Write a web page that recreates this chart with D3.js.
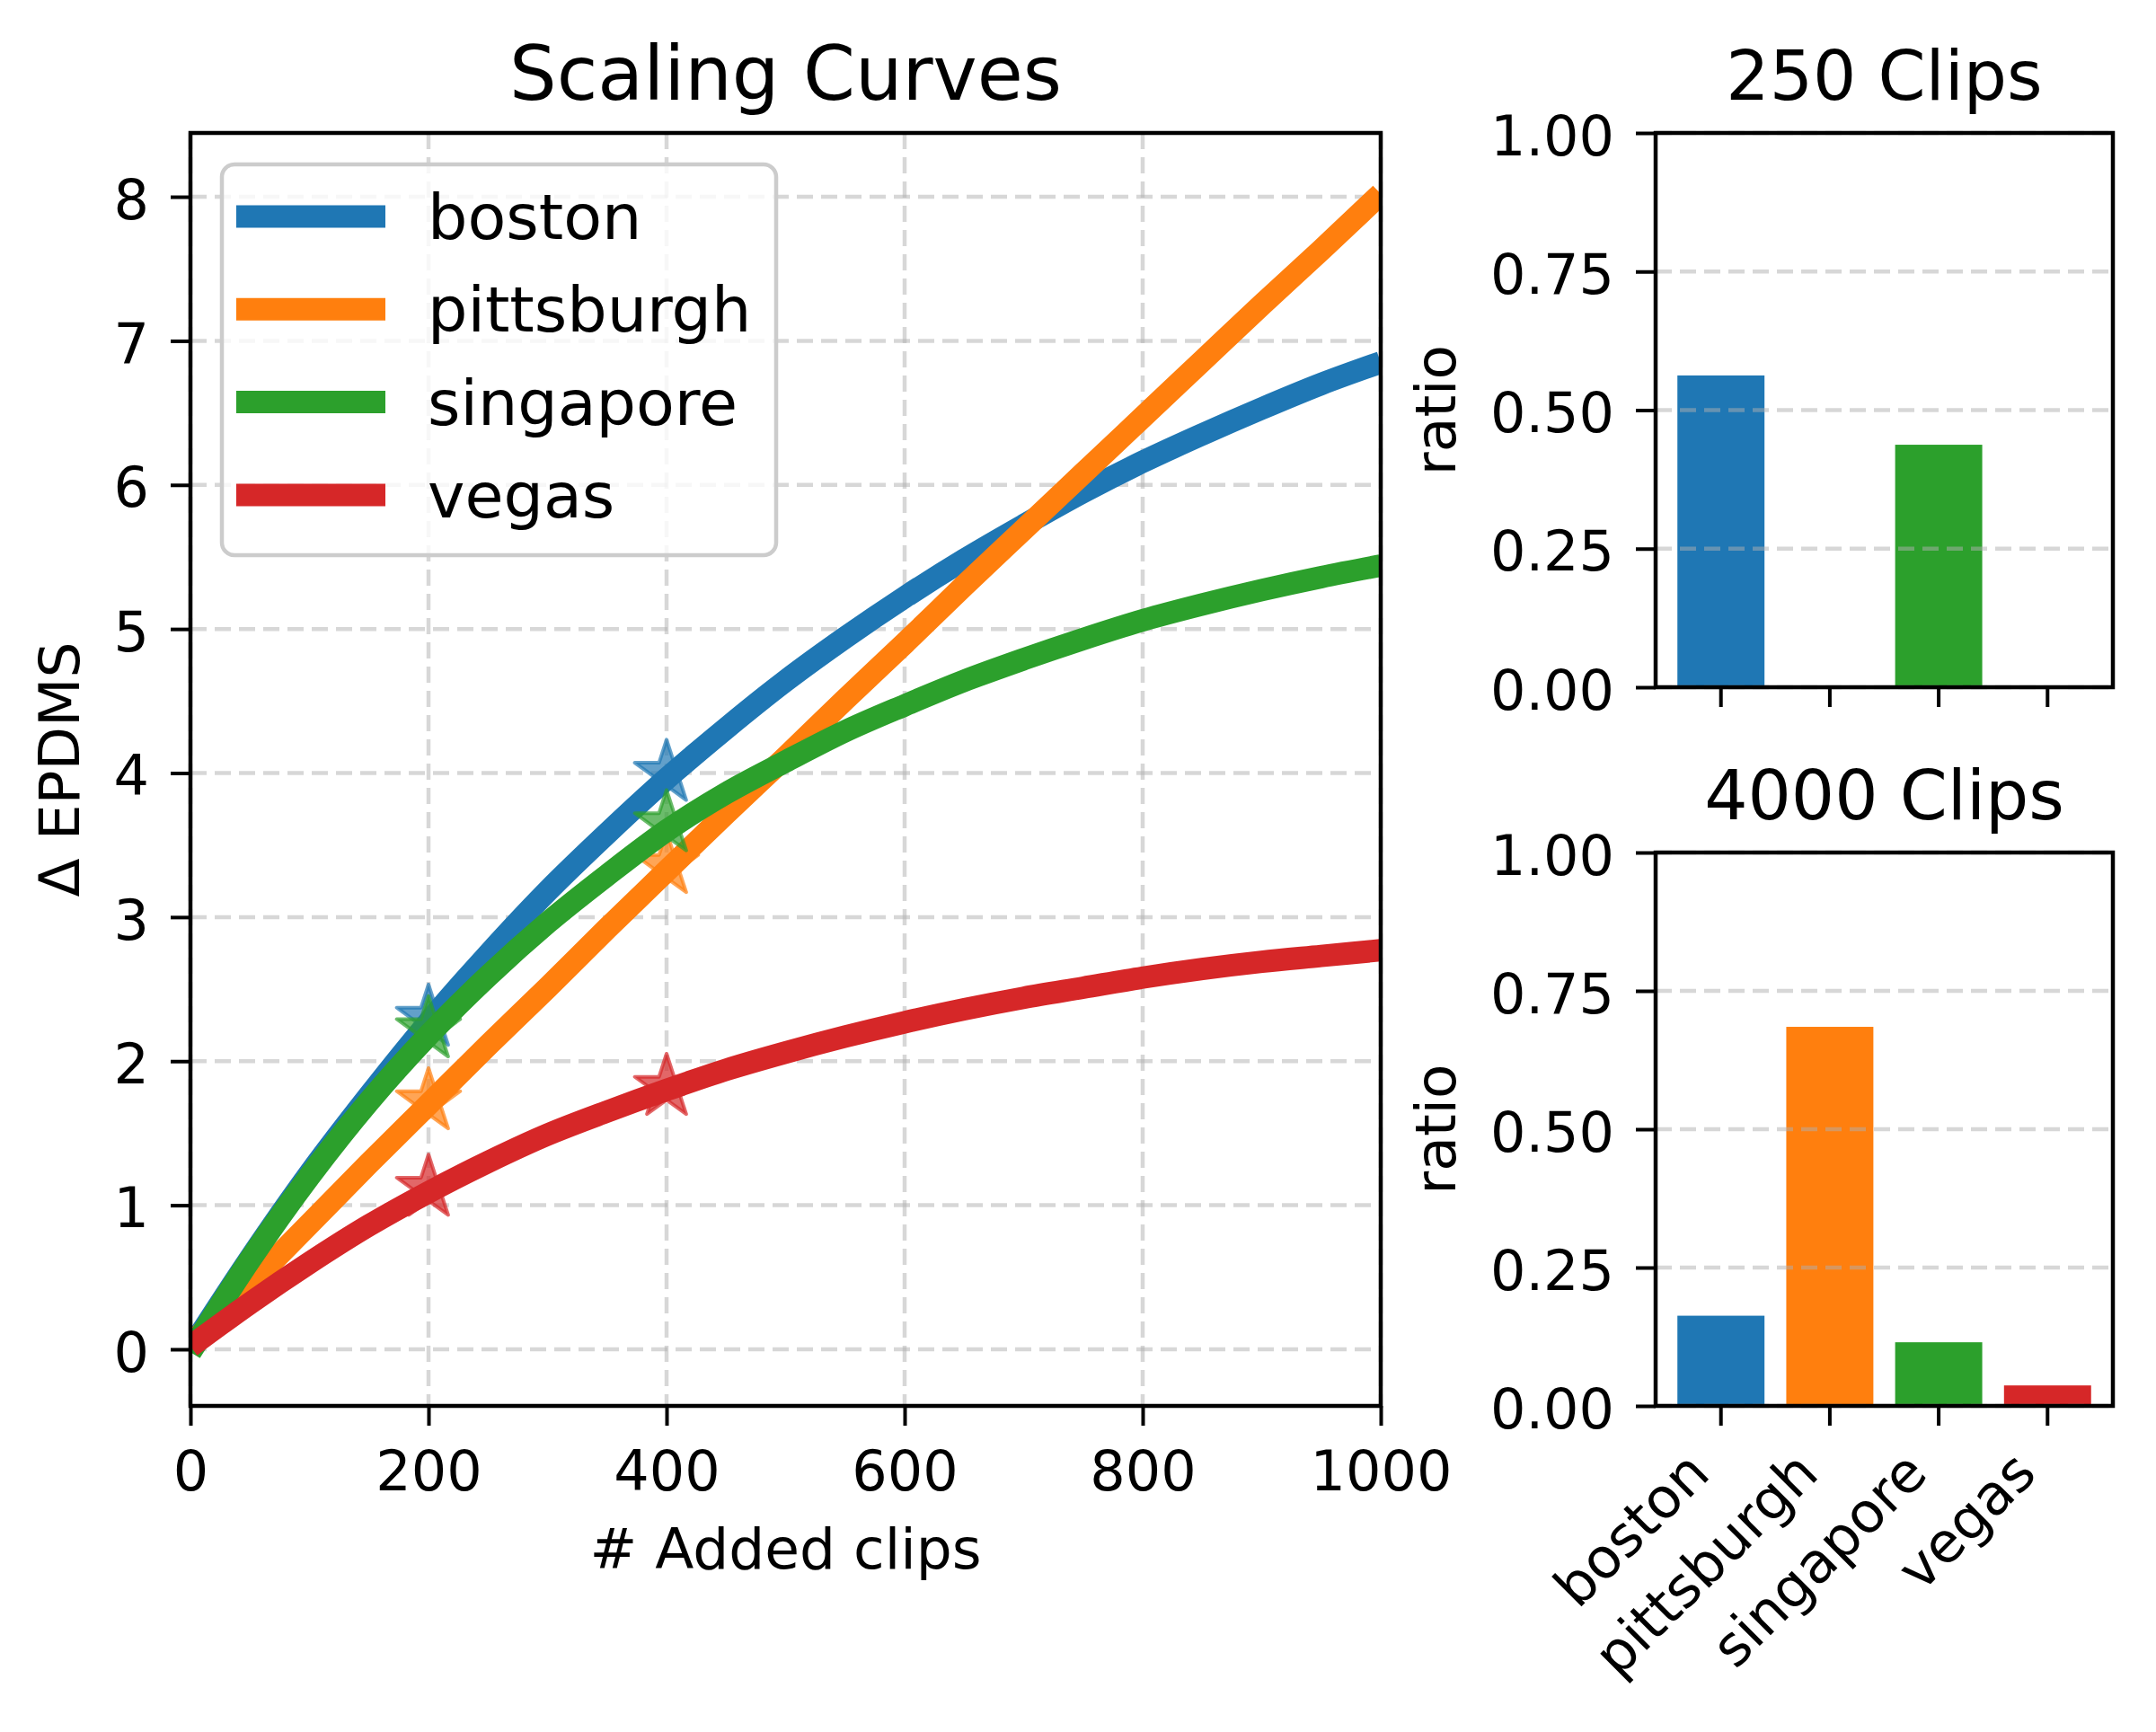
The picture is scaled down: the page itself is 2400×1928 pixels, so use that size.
<!DOCTYPE html>
<html>
<head>
<meta charset="utf-8">
<script src="https://cdn.jsdelivr.net/npm/d3@7"></script>
<style>
  html, body { margin: 0; padding: 0; background: #fff; }
  text { font-family: "DejaVu Sans", sans-serif; fill: #000; }
</style>
</head>
<body>
<div id="chart"></div>
<script>
// ---- data ----
const cities = ['boston', 'pittsburgh', 'singapore', 'vegas'];
const cityColors = ['#1f77b4', '#ff7f0e', '#2ca02c', '#d62728'];

const clipSteps = [0, 50, 100, 150, 200, 250, 300, 350, 400, 450, 500,
                   550, 600, 650, 700, 750, 800, 850, 900, 950, 1000];
const bostonCurve     = [0.00, 0.63, 1.22, 1.76, 2.27, 2.74, 3.18, 3.58, 3.96, 4.31, 4.64,
                         4.94, 5.22, 5.48, 5.72, 5.95, 6.16, 6.35, 6.53, 6.70, 6.85];
const pittsburghCurve = [0.03, 0.45, 0.87, 1.29, 1.70, 2.11, 2.51, 2.92, 3.32, 3.72, 4.11,
                         4.51, 4.90, 5.30, 5.69, 6.08, 6.47, 6.86, 7.25, 7.63, 8.02];
const singaporeCurve  = [-0.02, 0.62, 1.20, 1.72, 2.18, 2.59, 2.96, 3.29, 3.60, 3.86, 4.08,
                         4.29, 4.47, 4.64, 4.79, 4.93, 5.06, 5.17, 5.27, 5.36, 5.44];
const vegasCurve      = [0.02, 0.32, 0.60, 0.86, 1.09, 1.30, 1.49, 1.65, 1.80, 1.94, 2.06,
                         2.17, 2.27, 2.36, 2.44, 2.51, 2.58, 2.64, 2.69, 2.73, 2.77];

const starClips = [200, 400];
const bostonStars     = [2.30, 4.00];
const pittsburghStars = [1.72, 3.36];
const singaporeStars  = [2.22, 3.65];
const vegasStars      = [1.12, 1.82];

const ratio250  = [0.5625, 0, 0.4375, 0];
const ratio4000 = [0.163, 0.685, 0.115, 0.037];

const xTicksMain = [0, 200, 400, 600, 800, 1000];
const yTicksMain = [0, 1, 2, 3, 4, 5, 6, 7, 8];
const ratioTicks = [0, 0.25, 0.5, 0.75, 1.0];

const curves = [bostonCurve, pittsburghCurve, singaporeCurve, vegasCurve];
const stars = [bostonStars, pittsburghStars, singaporeStars, vegasStars];

// ---- layout ----
const W = 2400, H = 1928;
const main = {left: 212, right: 1537, top: 148, bottom: 1565};
const barTop = {left: 1843, right: 2352, top: 148, bottom: 765};
const barBot = {left: 1843, right: 2352, top: 949, bottom: 1565};
const tickLen = 22, spineW = 4.5, lineW = 25;
const tickFont = 62, labelFont = 63;

const svg = d3.select('#chart').append('svg')
    .attr('width', W).attr('height', H)
    .attr('viewBox', `0 0 ${W} ${H}`);
svg.append('rect').attr('width', W).attr('height', H).attr('fill', '#fff');

function gridStyle(sel) {
  sel.attr('stroke', '#b0b0b0').attr('stroke-opacity', 0.5)
     .attr('stroke-width', 4.5).attr('stroke-dasharray', '18,9');
}

function styleAxis(g) {
  g.select('.domain').remove();
  g.selectAll('.tick line').attr('stroke', '#000').attr('stroke-width', 4);
  g.selectAll('.tick text').attr('font-size', tickFont).attr('fill', '#000')
    .attr('font-family', '"DejaVu Sans", sans-serif');
}

// ================= Scaling curves =================
const x = d3.scaleLinear().domain([0, 1000]).range([main.left, main.right]);
const y = d3.scaleLinear().domain([-0.393, 8.443]).range([main.bottom, main.top]);

svg.append('defs').append('clipPath').attr('id', 'mainClip')
  .append('rect')
    .attr('x', main.left).attr('y', main.top)
    .attr('width', main.right - main.left).attr('height', main.bottom - main.top);

const grid = svg.append('g');
grid.selectAll('.vg').data(xTicksMain).enter().append('line')
    .attr('x1', d => x(d)).attr('x2', d => x(d))
    .attr('y1', main.top).attr('y2', main.bottom).call(gridStyle);
grid.selectAll('.hg').data(yTicksMain).enter().append('line')
    .attr('x1', main.left).attr('x2', main.right)
    .attr('y1', d => y(d)).attr('y2', d => y(d)).call(gridStyle);

const plot = svg.append('g').attr('clip-path', 'url(#mainClip)');
const line = d3.line()
    .x((d, i) => x(clipSteps[i]))
    .y(d => y(d))
    .curve(d3.curveMonotoneX);
const star = d3.symbol().type(d3.symbolStar).size(1550);

cities.forEach((c, k) => {
  plot.selectAll('.star-' + c)
      .data(stars[k])
      .enter().append('path')
      .attr('transform', (d, i) => `translate(${x(starClips[i])},${y(d)})`)
      .attr('d', star)
      .attr('fill', cityColors[k]).attr('fill-opacity', 0.7)
      .attr('stroke', cityColors[k]).attr('stroke-opacity', 0.7)
      .attr('stroke-width', 4).attr('stroke-linejoin', 'round');
  plot.append('path')
      .datum(curves[k])
      .attr('d', line)
      .attr('fill', 'none')
      .attr('stroke', cityColors[k])
      .attr('stroke-width', lineW)
      .attr('stroke-linejoin', 'round');
});

svg.append('g')
    .attr('transform', `translate(0,${main.bottom})`)
    .call(d3.axisBottom(x).tickValues(xTicksMain).tickSize(tickLen).tickPadding(28)
      .tickFormat(d3.format('d')))
    .call(styleAxis);
svg.append('g')
    .attr('transform', `translate(${main.left},0)`)
    .call(d3.axisLeft(y).tickValues(yTicksMain).tickSize(tickLen).tickPadding(24)
      .tickFormat(d3.format('d')))
    .call(styleAxis)
    .selectAll('.tick text').attr('dy', '0.39em');

svg.append('rect')
    .attr('x', main.left).attr('y', main.top)
    .attr('width', main.right - main.left).attr('height', main.bottom - main.top)
    .attr('fill', 'none').attr('stroke', '#000').attr('stroke-width', spineW);

svg.append('text')
    .attr('x', (main.left + main.right) / 2).attr('y', 111)
    .attr('text-anchor', 'middle').attr('font-size', 83)
    .text('Scaling Curves');
svg.append('text')
    .attr('x', (main.left + main.right) / 2).attr('y', 1746)
    .attr('text-anchor', 'middle').attr('font-size', labelFont)
    .text('# Added clips');
svg.append('text')
    .attr('transform', `translate(88,${(main.top + main.bottom) / 2}) rotate(-90)`)
    .attr('text-anchor', 'middle').attr('font-size', labelFont)
    .text('\u0394 EPDMS');

// legend
const legend = svg.append('g');
legend.append('rect')
    .attr('x', 247).attr('y', 183).attr('width', 617).attr('height', 435)
    .attr('rx', 14).attr('ry', 14)
    .attr('fill', '#fff').attr('fill-opacity', 0.8)
    .attr('stroke', '#cccccc').attr('stroke-width', 4.5);
const legRows = legend.selectAll('.row').data(cities).enter().append('g')
    .attr('transform', (d, i) => `translate(0,${241 + i * 103.3})`);
legRows.append('line')
    .attr('x1', 263).attr('x2', 429)
    .attr('stroke', (d, i) => cityColors[i]).attr('stroke-width', lineW);
legRows.append('text')
    .attr('x', 476).attr('y', 25)
    .attr('font-size', 70)
    .text(d => d);

// ================= Ratio bars =================
function barPanel(box, values, title, showLabels) {
  const bx = d3.scaleBand().domain(cities).range([box.left, box.right]).padding(0.2);
  const by = d3.scaleLinear().domain([0, 1]).range([box.bottom, box.top]);

  svg.append('g').selectAll('rect').data(values).enter().append('rect')
      .attr('x', (d, i) => bx(cities[i]))
      .attr('y', d => by(d))
      .attr('width', bx.bandwidth())
      .attr('height', d => by(0) - by(d))
      .attr('fill', (d, i) => cityColors[i]);

  svg.append('g').selectAll('line').data(ratioTicks).enter().append('line')
      .attr('x1', box.left).attr('x2', box.right)
      .attr('y1', d => by(d)).attr('y2', d => by(d)).call(gridStyle);

  const xa = svg.append('g')
      .attr('transform', `translate(0,${box.bottom})`)
      .call(d3.axisBottom(bx).tickSize(tickLen).tickPadding(28))
      .call(styleAxis);
  if (showLabels) {
    xa.selectAll('.tick text')
        .attr('text-anchor', 'end')
        .attr('y', null).attr('dy', null)
        .attr('transform', 'translate(-10,78) rotate(-45)');
  } else {
    xa.selectAll('.tick text').remove();
  }

  svg.append('g')
      .attr('transform', `translate(${box.left},0)`)
      .call(d3.axisLeft(by).tickValues(ratioTicks).tickSize(tickLen).tickPadding(24)
        .tickFormat(d3.format('.2f')))
      .call(styleAxis)
      .selectAll('.tick text').attr('dy', '0.39em');

  svg.append('rect')
      .attr('x', box.left).attr('y', box.top)
      .attr('width', box.right - box.left).attr('height', box.bottom - box.top)
      .attr('fill', 'none').attr('stroke', '#000').attr('stroke-width', spineW);

  svg.append('text')
      .attr('x', (box.left + box.right) / 2).attr('y', box.top - 37)
      .attr('text-anchor', 'middle').attr('font-size', 76)
      .text(title);
  svg.append('text')
      .attr('transform', `translate(1620,${(box.top + box.bottom) / 2}) rotate(-90)`)
      .attr('text-anchor', 'middle').attr('font-size', labelFont)
      .text('ratio');
}

barPanel(barTop, ratio250, '250 Clips', false);
barPanel(barBot, ratio4000, '4000 Clips', true);
</script>
</body>
</html>
